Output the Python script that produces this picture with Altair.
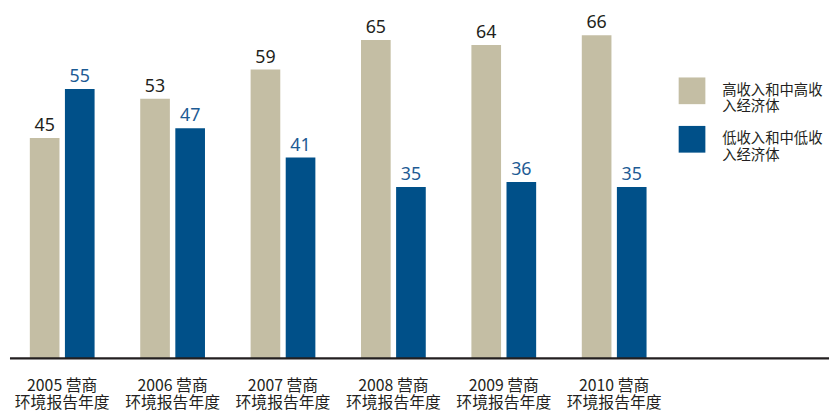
import altair as alt
import pandas as pd

years = ["2005", "2006", "2007", "2008", "2009", "2010"]
year_labels = [f"{y} 营商\n环境报告年度" for y in years]
series = ["高收入和中高收\n入经济体", "低收入和中低收\n入经济体"]
high_vals = [45, 53, 59, 65, 64, 66]
low_vals = [55, 47, 41, 35, 36, 35]

bar_colors = ["#c4bea4", "#005089"]
text_colors = ["#231f20", "#1d5b94"]

rows = []
for yl, h, l in zip(year_labels, high_vals, low_vals):
    rows.append({"year": yl, "series": series[0], "value": h})
    rows.append({"year": yl, "series": series[1], "value": l})
df = pd.DataFrame(rows)

W = 828
H = 352

x_enc = alt.X(
    "year:N",
    sort=year_labels,
    scale=alt.Scale(range=[-3, 666.6], paddingInner=0, paddingOuter=0),
    axis=alt.Axis(
        title=None, domain=False, ticks=False, tickSize=0,
        labelAngle=0, labelFont="Noto Sans CJK SC", labelFontSize=16,
        labelColor="#231f20", labelPadding=19, labelLineHeight=18,
        labelBaseline="top",
        labelExpr="split(datum.label, '\\n')",
    ),
)
xoff = alt.XOffset("series:N", sort=series,
                   scale=alt.Scale(paddingInner=0.155, paddingOuter=0.65))
y_enc = alt.Y("value:Q", scale=alt.Scale(domain=[0, 71.1], nice=False), axis=None)

base = alt.Chart(df)

bars = base.mark_bar().encode(
    x=x_enc, xOffset=xoff, y=y_enc,
    color=alt.Color(
        "series:N", sort=series,
        scale=alt.Scale(domain=series, range=bar_colors),
        legend=alt.Legend(
            title=None, orient="none", legendX=676, legendY=68,
            symbolType="square", symbolSize=729, symbolStrokeWidth=0,
            labelFont="Noto Sans CJK SC", labelFontSize=14.5, labelColor="#231f20",
            labelOffset=17, labelLimit=200,
            rowPadding=12, padding=0,
            labelExpr="split(datum.label, '\\n')",
        ),
    ),
)

labels = base.mark_text(baseline="alphabetic", dy=-7, font="Noto Sans", fontSize=18).encode(
    x=x_enc, xOffset=xoff, y=y_enc,
    text=alt.Text("value:Q"),
    color=alt.Color("series:N", scale=alt.Scale(domain=series, range=text_colors), legend=None),
)

baseline = alt.Chart(pd.DataFrame({"v": [0]})).mark_rule(color="#231f20", strokeWidth=2.5).encode(
    y=alt.Y("v:Q", scale=alt.Scale(domain=[0, 71.1], nice=False), axis=None),
    x=alt.value(0), x2=alt.value(W),
)

chart = alt.layer(bars, labels, baseline).resolve_scale(color="independent").properties(
    width=W, height=H, padding=0
).configure_view(stroke=None)

chart.save("out.html", embed_options={"renderer": "svg", "actions": False})
